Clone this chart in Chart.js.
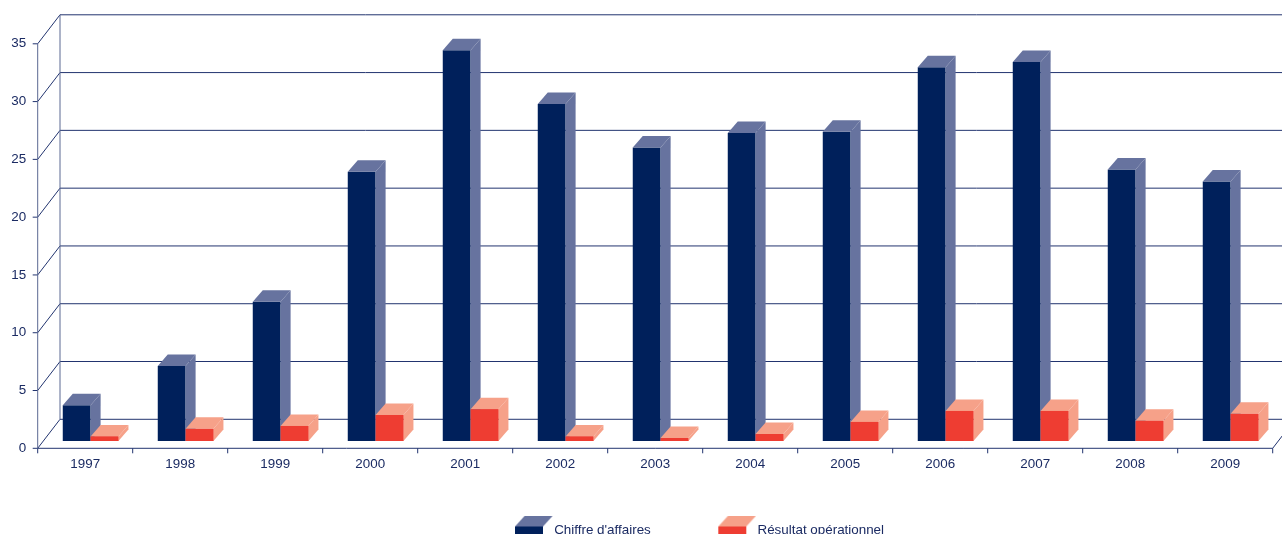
<!DOCTYPE html>
<html>
<head>
<meta charset="utf-8">
<title>Chiffre d'affaires et résultat opérationnel</title>
<script src="https://cdn.jsdelivr.net/npm/chart.js@4.4.0/dist/chart.umd.min.js"></script>
<style>
    html, body { margin: 0; padding: 0; background: #fff; }
    #wrap { width: 1282px; height: 534px; }
</style>
</head>
<body>
<div id="wrap"><canvas id="chart" width="1282" height="534"></canvas></div>
<script>
// Data
const years = ['1997', '1998', '1999', '2000', '2001', '2002', '2003', '2004', '2005', '2006', '2007', '2008', '2009'];
const chiffreAffaires = [3.1, 6.5, 12.05, 23.3, 33.8, 29.15, 25.4, 26.65, 26.75, 32.35, 32.8, 23.5, 22.45];
const resultatOperationnel = [0.4, 1.05, 1.3, 2.25, 2.75, 0.4, 0.25, 0.6, 1.65, 2.6, 2.6, 1.75, 2.35];
const yTicks = [0, 5, 10, 15, 20, 25, 30, 35];
const seriesNames = ['Chiffre d\'affaires', 'Résultat opérationnel'];

// Colours
const navy = '#00205b';
const navyShade = '#67739f';
const red = '#ee3d32';
const redShade = '#f6a189';
const lineColor = '#22346f';
const axisColor = '#5a6892';
const textColor = '#1b2b63';

// 3D look: bar depth and offsets of the front axis plane / back wall from the bar plane
const DEPTH_X = 10, DEPTH_Y = -11.5;
const FRONT_X = -5.4, FRONT_Y = 7.3;
const BACK_X = 16.9, BACK_Y = -21.7;

Chart.defaults.font.family = '"Liberation Sans", Arial, sans-serif';
Chart.defaults.font.size = 13.4;
Chart.defaults.color = textColor;

// Legend icons: flat 3D boxes
function legendIcon(front, shade) {
    const c = document.createElement('canvas');
    c.width = 39;
    c.height = 29;
    const g = c.getContext('2d');
    g.fillStyle = shade;
    g.beginPath();
    g.moveTo(1, 11);
    g.lineTo(11, 0);
    g.lineTo(39, 0);
    g.lineTo(29, 11);
    g.closePath();
    g.fill();
    g.fillStyle = front;
    g.fillRect(1, 11, 28, 12);
    return c;
}
const legendIcons = [legendIcon(navy, navyShade), legendIcon(red, redShade)];

function line(ctx, x1, y1, x2, y2) {
    ctx.beginPath();
    ctx.moveTo(x1, y1);
    ctx.lineTo(x2, y2);
    ctx.stroke();
}

// top and side faces of one bar element
function drawFaces(ctx, el, color, withFront) {
    const { x, y, base, width } = el.getProps(['x', 'y', 'base', 'width'], true);
    const l = x - width / 2, r = x + width / 2;
    ctx.fillStyle = color;
    ctx.beginPath();
    ctx.moveTo(l, y);
    ctx.lineTo(l + DEPTH_X, y + DEPTH_Y);
    ctx.lineTo(r + DEPTH_X, y + DEPTH_Y);
    ctx.lineTo(r, y);
    ctx.closePath();
    ctx.fill();
    ctx.beginPath();
    ctx.moveTo(r, y);
    ctx.lineTo(r + DEPTH_X, y + DEPTH_Y);
    ctx.lineTo(r + DEPTH_X, base + DEPTH_Y);
    ctx.lineTo(r, base);
    ctx.closePath();
    ctx.fill();
    if (withFront) {
        ctx.fillStyle = withFront;
        ctx.fillRect(l, y, width, base - y);
    }
}

const threeD = {
    id: 'threeD',
    afterLayout(chart) {
        // put the legend where the reference has it (legend clips to its own box)
        const lg = chart.legend;
        const pad = lg.options.labels.padding;
        const curX = (lg.left + pad + lg.right - lg.lineWidths[0]) / 2;
        const dx = 519.5 - curX;
        lg.left += dx;
        lg.right += dx;
        lg.top = 530 - pad - 6.7;
        lg.bottom = chart.height;
        lg.height = lg.bottom - lg.top;
    },
    beforeDatasetsDraw(chart) {
        const { ctx, chartArea: ca, scales: { x, y } } = chart;
        const y0 = y.getPixelForValue(0);
        const yTop = y.getPixelForValue(yTicks[yTicks.length - 1]);
        ctx.save();
        ctx.lineWidth = 1;

        // back wall gridlines, diagonals, axis ticks
        ctx.strokeStyle = lineColor;
        yTicks.forEach(v => {
            const py = y.getPixelForValue(v);
            line(ctx, ca.left + BACK_X, py + BACK_Y, chart.width, py + BACK_Y);
            line(ctx, ca.left + FRONT_X, py + FRONT_Y, ca.left + BACK_X, py + BACK_Y);
            line(ctx, ca.left + FRONT_X - 5, py + FRONT_Y, ca.left + FRONT_X, py + FRONT_Y);
        });

        // floor front edge and right diagonal
        line(ctx, ca.left + FRONT_X, y0 + FRONT_Y, ca.right + FRONT_X, y0 + FRONT_Y);
        line(ctx, ca.right + FRONT_X, y0 + FRONT_Y, ca.right + BACK_X, y0 + BACK_Y);

        // category ticks
        const step = (ca.right - ca.left) / years.length;
        for (let i = 0; i <= years.length; i++) {
            const px = (i < years.length ? x.getPixelForValue(i) - step / 2 : ca.right) + FRONT_X;
            line(ctx, px, y0 + FRONT_Y, px, y0 + FRONT_Y + 5);
        }

        // verticals
        ctx.strokeStyle = axisColor;
        line(ctx, ca.left + BACK_X, y0 + BACK_Y, ca.left + BACK_X, yTop + BACK_Y);
        line(ctx, ca.left + FRONT_X, y0 + FRONT_Y, ca.left + FRONT_X, yTop + FRONT_Y);
        ctx.restore();
    },
    afterDatasetsDraw(chart) {
        // navy faces first, then the red bars in front of them
        const ctx = chart.ctx;
        const caBars = chart.getDatasetMeta(0).data;
        const roBars = chart.getDatasetMeta(1).data;
        ctx.save();
        caBars.forEach((el, i) => {
            drawFaces(ctx, el, navyShade, null);
            drawFaces(ctx, roBars[i], redShade, red);
        });
        ctx.restore();
    }
};

new Chart(document.getElementById('chart'), {
    type: 'bar',
    data: {
        labels: years,
        datasets: [
            {
                label: seriesNames[0],
                data: chiffreAffaires,
                backgroundColor: navy,
                borderWidth: 0,
                categoryPercentage: 0.586,
                barPercentage: 1
            },
            {
                label: seriesNames[1],
                data: resultatOperationnel,
                backgroundColor: red,
                borderWidth: 0,
                categoryPercentage: 0.586,
                barPercentage: 1
            }
        ]
    },
    options: {
        responsive: false,
        animation: false,
        layout: { padding: { top: 36.5, right: 3.9, bottom: 0, left: 0 } },
        scales: {
            x: {
                grid: { display: false, drawTicks: false },
                border: { display: false },
                ticks: { padding: 15, labelOffset: FRONT_X, color: textColor },
                afterFit: (scale) => { scale.height = 73; }
            },
            y: {
                min: 0,
                max: 35,
                grid: { display: false, drawTicks: false },
                border: { display: false },
                ticks: { stepSize: 5, padding: 17, labelOffset: FRONT_Y, color: textColor },
                afterFit: (scale) => { scale.width = 43.1; }
            }
        },
        plugins: {
            tooltip: { enabled: false },
            legend: {
                position: 'bottom',
                maxHeight: 20,
                labels: {
                    usePointStyle: true,
                    pointStyleWidth: 28,
                    padding: 72,
                    color: textColor,
                    font: { size: 13.4 },
                    generateLabels(chart) {
                        const items = Chart.defaults.plugins.legend.labels.generateLabels(chart);
                        items.forEach(it => { it.pointStyle = legendIcons[it.datasetIndex]; });
                        return items.sort((a, b) => a.datasetIndex - b.datasetIndex);
                    }
                }
            }
        }
    },
    plugins: [threeD]
});
</script>
</body>
</html>
